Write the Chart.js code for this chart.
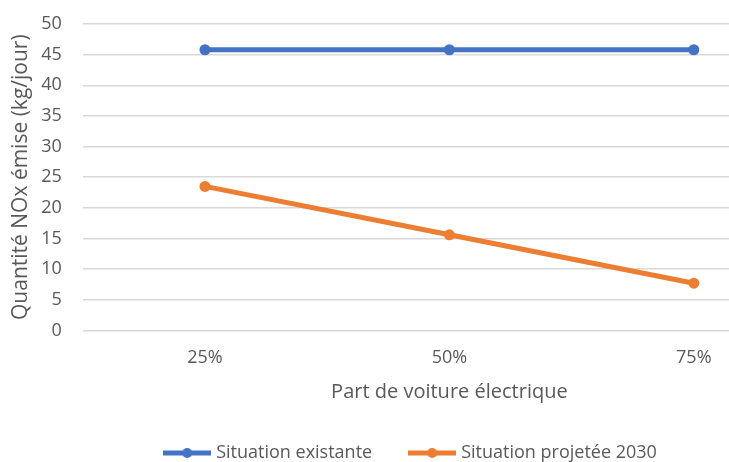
<!DOCTYPE html>
<html><head><meta charset="utf-8">
<script src="https://cdn.jsdelivr.net/npm/chart.js@4"></script>
<style>html,body{margin:0;padding:0;overflow:hidden;background:#fff;width:729px;height:462px}
#wrap{width:824px;height:462px;position:relative}</style>
</head><body><div id="wrap"><canvas id="c" width="824" height="462"></canvas></div>
<script>
const categories = ['25%', '50%', '75%'];
const existante = [45.8, 45.8, 45.8];
const projetee = [23.5, 15.6, 7.7];
const yTicks = [0, 5, 10, 15, 20, 25, 30, 35, 40, 45, 50];
const seriesNames = ['Situation existante', 'Situation projetée 2030'];
const xTitle = 'Part de voiture électrique';
const yTitle = 'Quantité NOx émise (kg/jour)';

const grey = '#595959';
const font = '"Open Sans", "Liberation Sans", sans-serif';
function legendIcon(color) {
  const c = document.createElement('canvas');
  c.width = 48; c.height = 12;
  const x = c.getContext('2d');
  x.strokeStyle = color; x.lineWidth = 5;
  x.beginPath(); x.moveTo(0, 6); x.lineTo(48, 6); x.stroke();
  x.fillStyle = color; x.beginPath(); x.arc(24, 6, 5, 0, Math.PI * 2); x.fill();
  return c;
}
const colors = ['#4472C4', '#ED7D31'];
const icons = colors.map(legendIcon);
new Chart(document.getElementById('c'), {
  type: 'line',
  data: {
    labels: categories,
    datasets: [
      {label: seriesNames[0], data: existante, borderColor: colors[0], backgroundColor: colors[0], borderWidth: 5, pointRadius: 5.5, pointHoverRadius: 5.5, pointBorderWidth: 0},
      {label: seriesNames[1], data: projetee, borderColor: colors[1], backgroundColor: colors[1], borderWidth: 5, pointRadius: 5.5, pointHoverRadius: 5.5, pointBorderWidth: 0}
    ]
  },
  options: {
    responsive: false, animation: false,
    layout: {padding: {left: 8, right: 8, top: 0, bottom: -10}},
    plugins: {
      tooltip: {enabled: false},
      legend: {position: 'bottom', labels: {color: grey, font: {family: font, size: 18}, usePointStyle: true, pointStyleWidth: 40, boxHeight: 12, padding: 40,
        generateLabels(chart) {
          return chart.data.datasets.map((d, i) => ({text: d.label, pointStyle: icons[i], fillStyle: d.borderColor, strokeStyle: d.borderColor, lineWidth: 0, datasetIndex: i, fontColor: grey}));
        }}}
    },
    scales: {
      x: {type: 'category', offset: true,
        grid: {display: false, drawTicks: false},
        border: {display: false},
        ticks: {color: grey, font: {family: font, size: 18}, padding: 17},
        title: {display: true, text: xTitle, color: grey, font: {family: font, size: 20}, padding: {top: -6, bottom: 0}}
      },
      y: {min: 0, max: 50,
        afterBuildTicks(s) { s.ticks = yTicks.map(v => ({value: v})); },
        afterFit(s) { s.paddingTop = 24; s.paddingBottom = 12; },
        grid: {color: '#D9D9D9', lineWidth: 1.5, drawTicks: false},
        border: {display: false},
        ticks: {color: grey, font: {family: font, size: 18}, padding: 21},
        title: {display: true, text: yTitle, color: grey, font: {family: font, size: 21}, padding: {top: 0, bottom: -13}}
      }
    }
  }
});
</script></body></html>
